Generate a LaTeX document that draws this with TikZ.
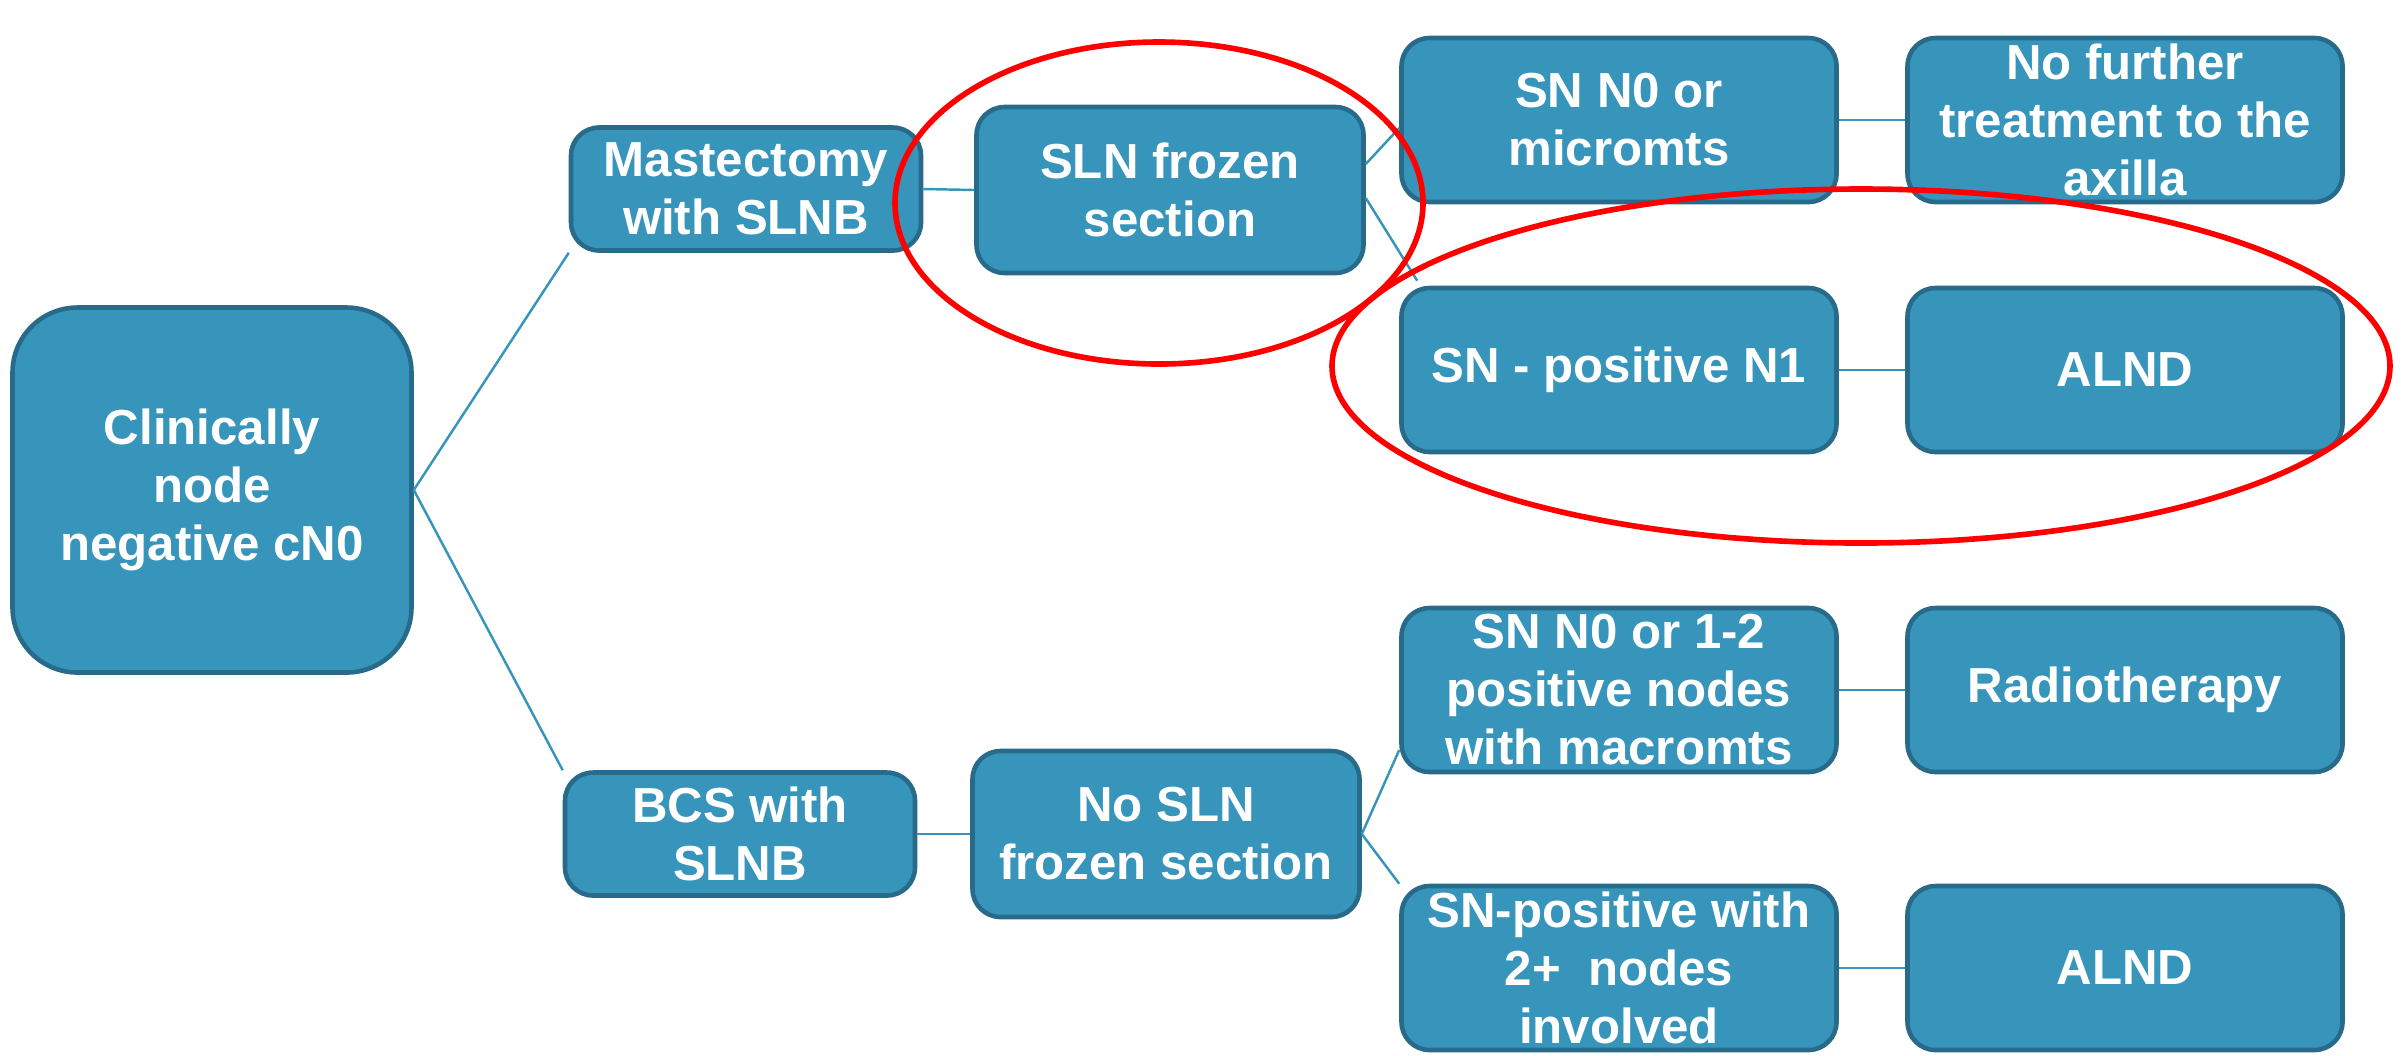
\documentclass[tikz,border=0pt]{standalone}
\usepackage{fontspec}
\setmainfont{Liberation Sans}
\usepackage{tikz}
\definecolor{boxfill}{HTML}{3795BB}
\definecolor{boxline}{HTML}{276A89}

\begin{document}
\begin{tikzpicture}[
    box/.style={draw=boxline, line width=1.3pt, fill=boxfill, rounded corners=0.28cm,
        text=white, font=\fontsize{14}{16.5}\selectfont\bfseries, align=center,
        inner sep=0pt, minimum width=4.35cm, minimum height=1.64cm},
    small/.style={box, minimum width=3.5cm, minimum height=1.23cm},
    mid/.style={box, minimum width=3.87cm, minimum height=1.66cm},
    link/.style={draw=boxfill, line width=0.7pt},
    ring/.style={draw=red, line width=1.6pt}
]
    \useasboundingbox (0,0) rectangle (24.07,-10.55);

    % first columns
    \node[box, minimum width=3.99cm, minimum height=3.65cm, rounded corners=0.65cm] (root) at (2.12,-4.90) {Clinically\\node\\negative cN0};
    \node[small] (mast) at (7.46,-1.89) {Mastectomy\\with SLNB};
    \node[small] (bcs) at (7.40,-8.34) {BCS with\\SLNB};
    \node[mid] (sln) at (11.70,-1.90) {SLN frozen\\section};
    \node[mid] (nosln) at (11.66,-8.34) {No SLN\\frozen section};

    % outcomes and treatments
    \node[box] (snn0) at (16.19,-1.20) {SN N0 or\\micromts};
    \node[box] (snpos) at (16.19,-3.70) {SN - positive N1};
    \node[box] (snmac) at (16.19,-6.90) {SN N0 or 1-2\\positive nodes\\with macromts};
    \node[box] (sntwo) at (16.19,-9.68) {SN-positive with\\2+\ \ nodes\\involved};
    \node[box] (nofur) at (21.25,-1.20) {No further\\treatment to the\\axilla};
    \node[box] (alnda) at (21.25,-3.70) {ALND};
    \node[box] (radio) at (21.25,-6.90) {Radiotherapy};
    \node[box] (alndb) at (21.25,-9.68) {ALND};

    \draw[link] (root.east) -- (mast.south west);
    \draw[link] (root.east) -- (bcs.north west);
    \draw[link] (mast.east) -- (sln.west);
    \draw[link] (bcs.east) -- (nosln.west);
    \draw[link] ([yshift=0.26cm]sln.east) -- ([yshift=-0.08cm]snn0.west);
    \draw[link] ([yshift=-0.08cm]sln.east) -- ([xshift=0.18cm,yshift=0.05cm]snpos.north west);
    \draw[link] (nosln.east) -- ([yshift=-0.6cm]snmac.west);
    \draw[link] (nosln.east) -- (sntwo.north west);
    \foreach \a/\b in {snn0/nofur, snpos/alnda, snmac/radio, sntwo/alndb}
        \draw[link] (\a.east) -- (\b.west);

    \draw[ring] (11.59,-2.03) ellipse (2.64cm and 1.61cm);
    \draw[ring] (18.61,-3.66) ellipse (5.29cm and 1.77cm);
\end{tikzpicture}
\end{document}
